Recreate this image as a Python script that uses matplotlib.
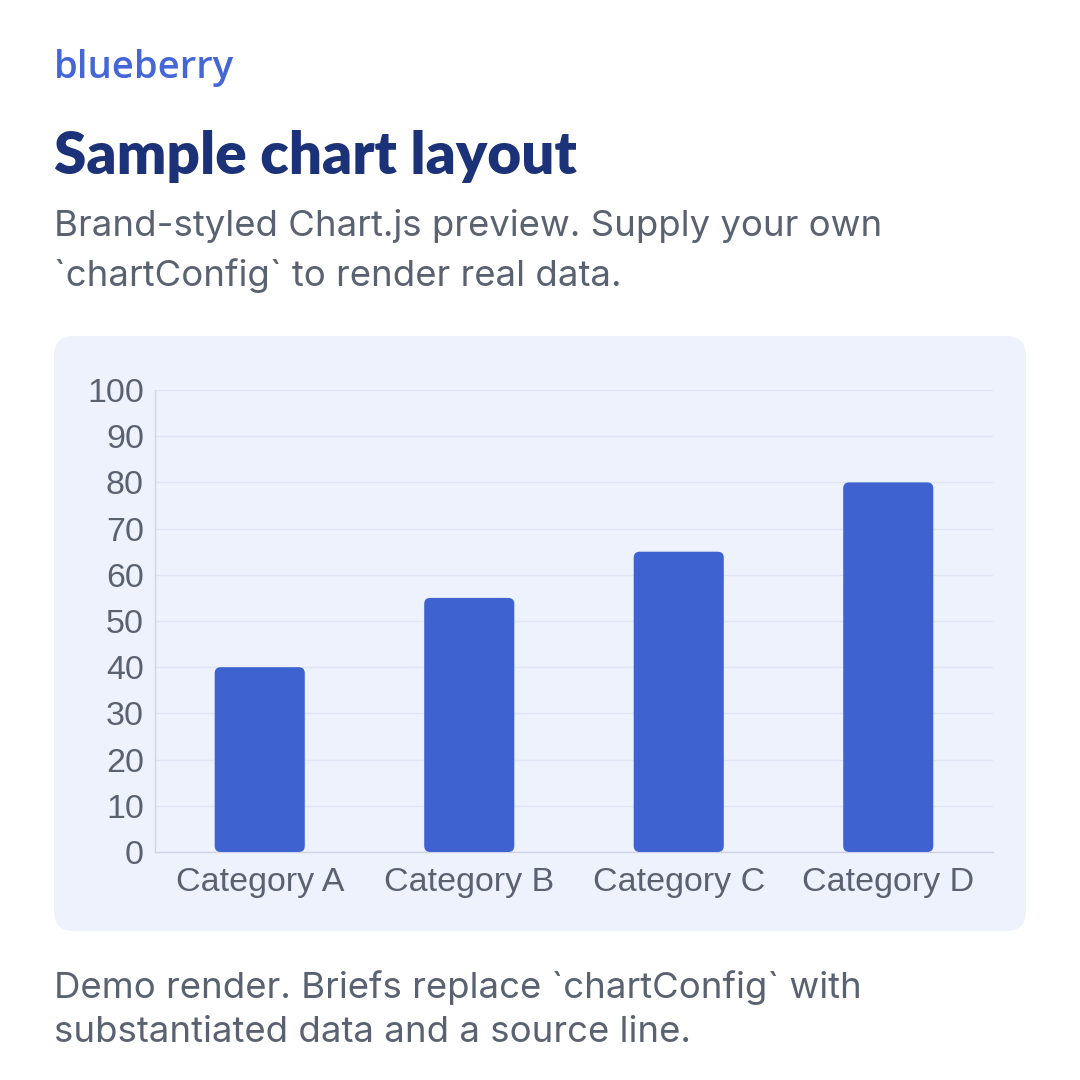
import matplotlib
matplotlib.use("Agg")
import matplotlib.pyplot as plt
from matplotlib.patches import FancyBboxPatch

categories = ["Category A", "Category B", "Category C", "Category D"]
values = [40, 55, 65, 80]
y_ticks = list(range(0, 101, 10))

bar_color = "#3e63d1"
card_color = "#eef2fd"
text_gray = "#5a6272"
grid_color = "#e0e5f3"
axis_color = "#cfd5e6"

W = H = 1080
fig = plt.figure(figsize=(10.8, 10.8), dpi=100)
fig.patch.set_facecolor("white")

def fy(px):
    return 1 - px / H

# card behind chart
card = FancyBboxPatch((54 / W, fy(931)), (1026 - 54) / W, (931 - 336) / H,
                      boxstyle="round,pad=0,rounding_size=%f" % (20 / W),
                      transform=fig.transFigure, facecolor=card_color,
                      edgecolor="none", zorder=0)
fig.add_artist(card)

# header texts
fig.text(54 / W, fy(78), "blueberry", fontsize=27.5, color="#4466d6",
         family="Open Sans", fontweight="semibold", va="baseline")
fig.text(54 / W, fy(174), "Sample chart layout", fontsize=42, color="#1c3278",
         family="Lato", fontweight="heavy", va="baseline")
fig.text(54 / W, fy(236), "Brand-styled Chart.js preview. Supply your own",
         fontsize=26.3, color=text_gray, family="Inter", va="baseline")
fig.text(54 / W, fy(286), "`chartConfig` to render real data.",
         fontsize=26.3, color=text_gray, family="Inter", va="baseline")
fig.text(54 / W, fy(998), "Demo render. Briefs replace `chartConfig` with",
         fontsize=26.3, color=text_gray, family="Inter", va="baseline")
fig.text(54 / W, fy(1042), "substantiated data and a source line.",
         fontsize=26.3, color=text_gray, family="Inter", va="baseline")

# chart axes
ax = fig.add_axes([155 / W, 228 / H, 838 / W, 462 / H])
ax.set_facecolor("none")
x = range(len(categories))
bars = ax.bar(x, values, width=0.43, color=bar_color)
ax.set_xlim(-0.5, len(categories) - 0.5)
ax.set_ylim(0, 100)
ax.set_yticks(y_ticks)
ax.set_xticks(list(x))
ax.set_xticklabels(categories)
ax.tick_params(axis="both", length=0, labelsize=24.5, labelcolor=text_gray)
ax.tick_params(axis="y", pad=8)
ax.tick_params(axis="x", pad=11)
for lab in ax.get_xticklabels() + ax.get_yticklabels():
    lab.set_family("Liberation Sans")
ax.grid(axis="y", color=grid_color, linewidth=1)
ax.set_axisbelow(True)
for s in ["top", "right"]:
    ax.spines[s].set_visible(False)
for s in ["left", "bottom"]:
    ax.spines[s].set_color(axis_color)
    ax.spines[s].set_linewidth(1)

# rounded bars: swap the plain rectangles for rounded ones
xr = (len(categories)) / (838)
yr = 100 / 462
radius_px = 6
for b in bars:
    bx, by = b.get_x(), b.get_y()
    bw, bh = b.get_width(), b.get_height()
    b.set_visible(False)
    rb = FancyBboxPatch((bx, by), bw, bh,
                        boxstyle="round,pad=0,rounding_size=%f" % (radius_px * xr),
                        mutation_aspect=yr / xr, facecolor=bar_color,
                        edgecolor="none", zorder=3)
    ax.add_patch(rb)

fig.savefig("out.png", dpi=100, facecolor=fig.get_facecolor())
